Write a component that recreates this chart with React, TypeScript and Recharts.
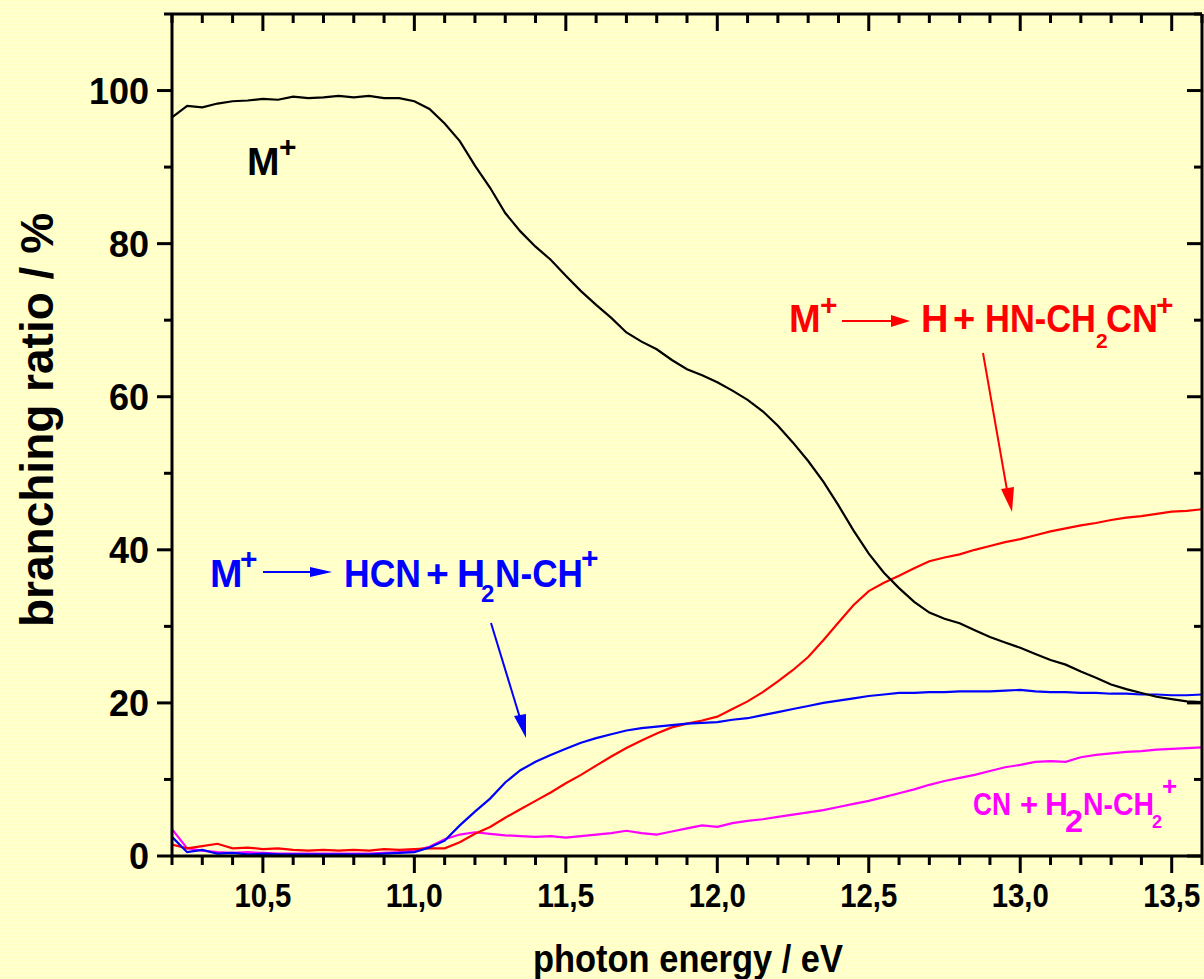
import React from "react";
import { LineChart, Line, XAxis, YAxis } from "recharts";

// photon energy grid (eV)
const energy = [
  10.2, 10.25, 10.3, 10.35, 10.4, 10.45, 10.5, 10.55, 10.6, 10.65, 10.7, 10.75,
  10.8, 10.85, 10.9, 10.95, 11.0, 11.05, 11.1, 11.15, 11.2, 11.25, 11.3, 11.35,
  11.4, 11.45, 11.5, 11.55, 11.6, 11.65, 11.7, 11.75, 11.8, 11.85, 11.9, 11.95,
  12.0, 12.05, 12.1, 12.15, 12.2, 12.25, 12.3, 12.35, 12.4, 12.45, 12.5, 12.55,
  12.6, 12.65, 12.7, 12.75, 12.8, 12.85, 12.9, 12.95, 13.0, 13.05, 13.1, 13.15,
  13.2, 13.25, 13.3, 13.35, 13.4, 13.45, 13.5, 13.55, 13.6,
];

// M+ (parent ion), black
const parentIon = [
  96.5, 98.0, 97.8, 98.3, 98.6, 98.7, 98.9, 98.8, 99.2, 99.0, 99.1, 99.3,
  99.1, 99.3, 99.0, 99.0, 98.6, 97.6, 95.7, 93.4, 90.2, 87.3, 84.0, 81.6,
  79.6, 77.9, 75.8, 73.8, 72.0, 70.3, 68.4, 67.2, 66.2, 64.8, 63.6, 62.8,
  61.9, 60.8, 59.6, 58.1, 56.2, 54.0, 51.6, 48.9, 45.8, 42.5, 39.5, 37.0,
  35.0, 33.2, 31.8, 31.0, 30.4, 29.5, 28.6, 27.9, 27.2, 26.4, 25.6, 25.0,
  24.1, 23.3, 22.4, 21.8, 21.3, 20.8, 20.5, 20.2, 20.1,
];

// M+ -> H + HN-CH2CN+, red
const hLoss = [
  1.5, 1.0, 1.3, 1.6, 1.0, 1.1, 0.9, 1.0, 0.8, 0.7, 0.8, 0.7,
  0.8, 0.7, 0.9, 0.8, 0.9, 1.0, 1.0, 1.8, 2.9, 3.8, 5.0, 6.1,
  7.2, 8.3, 9.5, 10.6, 11.8, 13.0, 14.1, 15.1, 16.0, 16.8, 17.3, 17.7,
  18.2, 19.2, 20.2, 21.4, 22.8, 24.3, 26.0, 28.2, 30.5, 32.8, 34.6, 35.7,
  36.6, 37.6, 38.5, 39.0, 39.4, 40.0, 40.5, 41.0, 41.4, 41.9, 42.4, 42.8,
  43.2, 43.5, 43.9, 44.2, 44.4, 44.7, 45.0, 45.1, 45.3,
];

// M+ -> HCN + H2N-CH+, blue
const hcnLoss = [
  2.5, 0.5, 0.8, 0.3, 0.4, 0.2, 0.3, 0.2, 0.2, 0.2, 0.2, 0.2,
  0.2, 0.2, 0.3, 0.4, 0.5, 1.1, 2.0, 4.0, 5.8, 7.5, 9.6, 11.2,
  12.3, 13.2, 14.0, 14.8, 15.4, 15.9, 16.4, 16.7, 16.9, 17.1, 17.3, 17.4,
  17.5, 17.8, 18.0, 18.4, 18.8, 19.2, 19.6, 20.0, 20.3, 20.6, 20.9, 21.1,
  21.3, 21.3, 21.4, 21.4, 21.5, 21.5, 21.5, 21.6, 21.7, 21.5, 21.4, 21.4,
  21.3, 21.3, 21.2, 21.2, 21.1, 21.1, 21.0, 21.0, 21.1,
];

// CN + H2N-CH2+, magenta
const cnLoss = [
  3.5, 1.0, 0.7, 0.5, 0.4, 0.5, 0.4, 0.3, 0.3, 0.3, 0.3, 0.3,
  0.3, 0.3, 0.4, 0.5, 0.7, 1.2, 2.2, 2.8, 3.1, 2.9, 2.7, 2.6,
  2.5, 2.6, 2.4, 2.6, 2.8, 3.0, 3.3, 3.0, 2.8, 3.2, 3.6, 4.0,
  3.8, 4.3, 4.6, 4.8, 5.1, 5.4, 5.7, 6.0, 6.4, 6.8, 7.2, 7.7,
  8.2, 8.7, 9.3, 9.8, 10.2, 10.6, 11.1, 11.6, 11.9, 12.3, 12.4, 12.3,
  12.9, 13.2, 13.4, 13.6, 13.7, 13.9, 14.0, 14.1, 14.2,
];

const xTicks = [
  10.2, 10.3, 10.4, 10.5, 10.6, 10.7, 10.8, 10.9, 11.0, 11.1, 11.2, 11.3,
  11.4, 11.5, 11.6, 11.7, 11.8, 11.9, 12.0, 12.1, 12.2, 12.3, 12.4, 12.5,
  12.6, 12.7, 12.8, 12.9, 13.0, 13.1, 13.2, 13.3, 13.4, 13.5, 13.6,
];
const xMajorTicks = [10.5, 11.0, 11.5, 12.0, 12.5, 13.0, 13.5];
const xTickLabels = ["10,5", "11,0", "11,5", "12,0", "12,5", "13,0", "13,5"];
const yTicks = [0, 10, 20, 30, 40, 50, 60, 70, 80, 90, 100, 110];
const yMajorTicks = [0, 20, 40, 60, 80, 100];
const yTickLabels = ["0", "20", "40", "60", "80", "100"];

const data = energy.map((e, i) => ({
  e,
  m: parentIon[i],
  h: hLoss[i],
  hcn: hcnLoss[i],
  cn: cnLoss[i],
}));

const FONT = "'Liberation Sans', Arial, Helvetica, sans-serif";
const W = 1204;
const H = 979;

const idxOf = (arr: number[], v: number) => arr.findIndex((t) => Math.abs(t - v) < 1e-6);

function BottomTick(props: any) {
  const { x, y, payload } = props;
  const i = idxOf(xMajorTicks, payload.value);
  const major = i >= 0;
  return (
    <g>
      <line x1={x} x2={x} y1={y} y2={y + (major ? 17 : 9)} stroke="#000" strokeWidth={3} />
      {major && (
        <text
          x={x}
          y={y + 51}
          textAnchor="middle"
          fontFamily={FONT}
          fontWeight="bold"
          fontSize={33}
          textLength={57}
          lengthAdjust="spacingAndGlyphs"
          fill="#000"
        >
          {xTickLabels[i]}
        </text>
      )}
    </g>
  );
}

function TopTick(props: any) {
  const { x, y, payload } = props;
  const major = idxOf(xMajorTicks, payload.value) >= 0;
  return <line x1={x} x2={x} y1={y} y2={y + (major ? 17 : 9)} stroke="#000" strokeWidth={3} />;
}

function LeftTick(props: any) {
  const { x, y, payload } = props;
  const i = idxOf(yMajorTicks, payload.value);
  const major = i >= 0;
  return (
    <g>
      <line x1={x - (major ? 15 : 8)} x2={x} y1={y} y2={y} stroke="#000" strokeWidth={3} />
      {major && (
        <text
          x={x - 23}
          y={y + 13}
          textAnchor="end"
          fontFamily={FONT}
          fontWeight="bold"
          fontSize={36}
          fill="#000"
        >
          {yTickLabels[i]}
        </text>
      )}
    </g>
  );
}

function RightTick(props: any) {
  const { x, y, payload } = props;
  const major = idxOf(yMajorTicks, payload.value) >= 0;
  return <line x1={x - (major ? 15 : 8)} x2={x} y1={y} y2={y} stroke="#000" strokeWidth={3} />;
}

const tStyle = { fontFamily: FONT, fontWeight: "bold" as const };

function Annotations() {
  return (
    <svg
      width={W}
      height={H}
      style={{ position: "absolute", left: 0, top: 0, pointerEvents: "none" }}
    >
      {/* axis titles */}
      <text
        x={688}
        y={972}
        textAnchor="middle"
        fontSize={38}
        textLength={310}
        lengthAdjust="spacingAndGlyphs"
        fill="#000"
        {...tStyle}
      >
        photon energy / eV
      </text>
      <text
        transform="translate(53,420) rotate(-90)"
        x={0}
        y={0}
        textAnchor="middle"
        fontSize={46}
        fill="#000"
        {...tStyle}
      >
        branching ratio / %
      </text>

      {/* M+ label */}
      <g fill="#000" {...tStyle}>
        <text x={247} y={175} fontSize={39}>M</text>
        <text x={279} y={157} fontSize={30}>+</text>
      </g>

      {/* blue label */}
      <g fill="#0000FF" {...tStyle}>
        <text x={210} y={587} fontSize={39}>M</text>
        <text x={240} y={569} fontSize={30}>+</text>
        <text x={344} y={587} fontSize={39} textLength={77} lengthAdjust="spacingAndGlyphs">HCN</text>
        <text x={426} y={587} fontSize={39}>+</text>
        <text x={457} y={587} fontSize={39}>H</text>
        <text x={481} y={602} fontSize={24}>2</text>
        <text x={495} y={587} fontSize={39} textLength={88} lengthAdjust="spacingAndGlyphs">N-CH</text>
        <text x={581} y={568} fontSize={30}>+</text>
      </g>
      <line x1={263} y1={572} x2={312} y2={572} stroke="#0000FF" strokeWidth={2} />
      <polygon points="310,567 332,572 310,577" fill="#0000FF" />
      <line x1={491} y1={623} x2={520} y2={718} stroke="#0000FF" strokeWidth={2} />
      <polygon points="514,716 526,738 526,714" fill="#0000FF" />

      {/* red label */}
      <g fill="#FF0000" {...tStyle}>
        <text x={789} y={332} fontSize={38}>M</text>
        <text x={820} y={315} fontSize={30}>+</text>
        <text x={921} y={332} fontSize={38}>H</text>
        <text x={953} y={332} fontSize={38}>+</text>
        <text x={985} y={332} fontSize={38} textLength={111} lengthAdjust="spacingAndGlyphs">HN-CH</text>
        <text x={1096} y={348} fontSize={21}>2</text>
        <text x={1106} y={332} fontSize={38} textLength={52} lengthAdjust="spacingAndGlyphs">CN</text>
        <text x={1156} y={315} fontSize={30}>+</text>
      </g>
      <line x1={842} y1={321} x2={893} y2={321} stroke="#FF0000" strokeWidth={2} />
      <polygon points="891,315 910,321 891,327" fill="#FF0000" />
      <line x1={983} y1={353} x2={1007} y2={490} stroke="#FF0000" strokeWidth={2} />
      <polygon points="1001,489 1012,512 1014,487" fill="#FF0000" />

      {/* magenta label */}
      <g fill="#FF00FF" {...tStyle}>
        <text x={973} y={815} fontSize={31} textLength={38} lengthAdjust="spacingAndGlyphs">CN</text>
        <text x={1020} y={815} fontSize={31}>+</text>
        <text x={1045} y={815} fontSize={31} textLength={23} lengthAdjust="spacingAndGlyphs">H</text>
        <text x={1065} y={832} fontSize={31} textLength={18} lengthAdjust="spacingAndGlyphs">2</text>
        <text x={1083} y={815} fontSize={31} textLength={71} lengthAdjust="spacingAndGlyphs">N-CH</text>
        <text x={1152} y={828} fontSize={18}>2</text>
        <text x={1162} y={795} fontSize={26}>+</text>
      </g>
    </svg>
  );
}

export default function App() {
  return (
    <div
      style={{
        position: "absolute",
        left: 0,
        top: 0,
        width: W,
        height: H,
        overflow: "hidden",
        background:
          "repeating-linear-gradient(0deg, #FFFFC6 0px, #FFFFC6 3px, #FFFFD6 3px, #FFFFD6 4px)",
      }}
    >
      <LineChart
        width={W}
        height={H}
        data={data}
        margin={{ top: 14, right: 2, bottom: 93, left: 112 }}
      >
        <XAxis
          xAxisId="b"
          dataKey="e"
          type="number"
          domain={[10.2, 13.6]}
          allowDataOverflow
          ticks={xTicks}
          interval={0}
          tickSize={0}
          tickMargin={0}
          tickLine={false}
          tick={<BottomTick />}
          axisLine={{ stroke: "#000", strokeWidth: 3 }}
          height={30}
        />
        <XAxis
          xAxisId="t"
          dataKey="e"
          type="number"
          orientation="top"
          mirror
          domain={[10.2, 13.6]}
          allowDataOverflow
          ticks={xTicks}
          interval={0}
          tickSize={0}
          tickMargin={0}
          tickLine={false}
          tick={<TopTick />}
          axisLine={{ stroke: "#000", strokeWidth: 3 }}
        />
        <YAxis
          yAxisId="l"
          type="number"
          domain={[0, 110]}
          allowDataOverflow
          ticks={yTicks}
          interval={0}
          tickSize={0}
          tickMargin={0}
          tickLine={false}
          tick={<LeftTick />}
          axisLine={{ stroke: "#000", strokeWidth: 3 }}
          width={60}
        />
        <YAxis
          yAxisId="r"
          type="number"
          orientation="right"
          mirror
          domain={[0, 110]}
          allowDataOverflow
          ticks={yTicks}
          interval={0}
          tickSize={0}
          tickMargin={0}
          tickLine={false}
          tick={<RightTick />}
          axisLine={{ stroke: "#000", strokeWidth: 3 }}
        />
        <Line xAxisId="b" yAxisId="l" type="linear" dataKey="cn" stroke="#FF00FF" strokeWidth={2.2} dot={false} isAnimationActive={false} />
        <Line xAxisId="b" yAxisId="l" type="linear" dataKey="h" stroke="#FF0000" strokeWidth={2.2} dot={false} isAnimationActive={false} />
        <Line xAxisId="b" yAxisId="l" type="linear" dataKey="hcn" stroke="#0000FF" strokeWidth={2.2} dot={false} isAnimationActive={false} />
        <Line xAxisId="b" yAxisId="l" type="linear" dataKey="m" stroke="#000000" strokeWidth={2.2} dot={false} isAnimationActive={false} />
      </LineChart>
      <Annotations />
    </div>
  );
}
